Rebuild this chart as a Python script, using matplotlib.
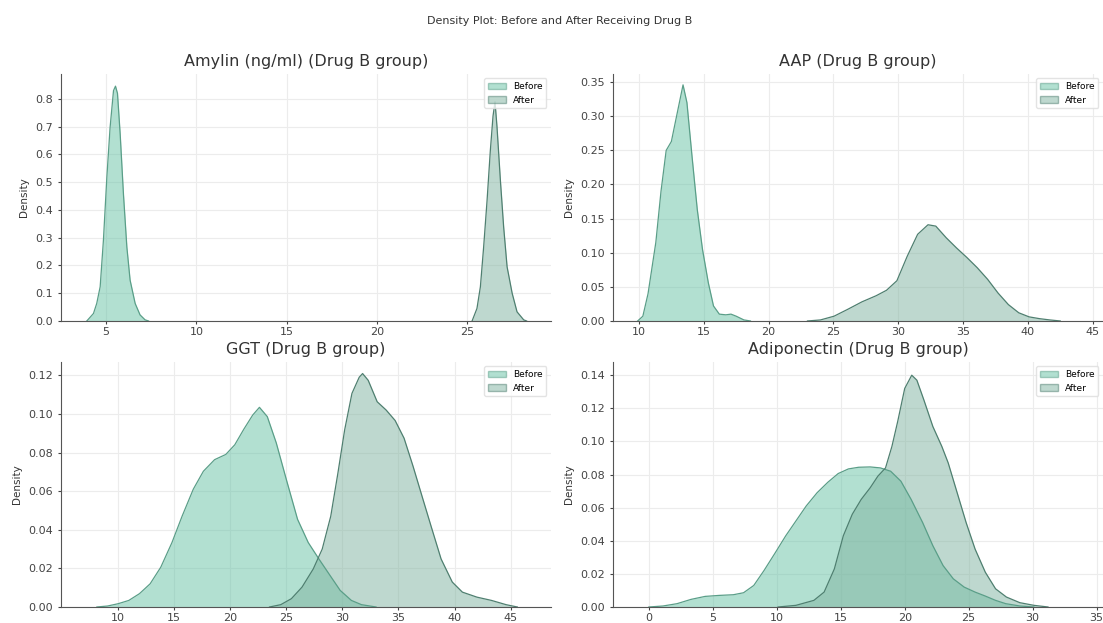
import matplotlib
matplotlib.use("Agg")
import matplotlib.pyplot as plt
from matplotlib.patches import Patch

# density curves (x, density)
amylin_before_x = [3.93, 4.30, 4.48, 4.67, 4.85, 5.04, 5.22, 5.41, 5.52, 5.63, 5.78, 5.96, 6.15, 6.33, 6.61, 6.88, 7.16, 7.35]
amylin_before_y = [0.0, 0.027, 0.063, 0.123, 0.29, 0.517, 0.697, 0.83, 0.846, 0.82, 0.673, 0.458, 0.266, 0.147, 0.063, 0.022, 0.004, 0.0]
amylin_after_x = [25.28, 25.55, 25.74, 25.92, 26.11, 26.29, 26.44, 26.55, 26.66, 26.85, 27.03, 27.22, 27.50, 27.77, 28.14, 28.30]
amylin_after_y = [0.0, 0.045, 0.123, 0.266, 0.434, 0.613, 0.738, 0.79, 0.70, 0.505, 0.338, 0.195, 0.10, 0.033, 0.004, 0.0]

aap_before_x = [9.9, 10.3, 10.7, 11.3, 11.7, 12.1, 12.5, 12.9, 13.4, 13.7, 14.1, 14.5, 14.9, 15.35, 15.75, 16.2, 16.7, 17.1, 17.5, 18.1, 18.6]
aap_before_y = [0.0, 0.007, 0.04, 0.115, 0.19, 0.25, 0.263, 0.30, 0.346, 0.32, 0.24, 0.163, 0.105, 0.056, 0.022, 0.01, 0.009, 0.01, 0.007, 0.0015, 0.0]
aap_after_x = [23.0, 24.0, 25.05, 26.1, 27.2, 28.3, 29.1, 29.9, 30.7, 31.5, 32.3, 32.9, 33.7, 34.5, 35.3, 36.1, 36.9, 37.7, 38.5, 39.3, 40.1, 40.9, 41.7, 42.5]
aap_after_y = [0.0, 0.0015, 0.007, 0.017, 0.028, 0.037, 0.045, 0.059, 0.095, 0.127, 0.141, 0.139, 0.122, 0.107, 0.093, 0.078, 0.061, 0.041, 0.024, 0.012, 0.006, 0.0034, 0.0015, 0.0]

ggt_before_x = [8.1, 9.05, 10.0, 10.95, 11.9, 12.85, 13.8, 14.8, 15.7, 16.7, 17.6, 18.6, 19.6, 20.4, 21.2, 22.0, 22.6, 23.3, 24.1, 25.0, 26.0, 26.95, 27.9, 28.9, 29.8, 30.8, 31.7, 33.0]
ggt_before_y = [0.0, 0.0005, 0.0017, 0.0034, 0.0069, 0.012, 0.0206, 0.0334, 0.047, 0.061, 0.0703, 0.0763, 0.079, 0.084, 0.092, 0.0994, 0.1034, 0.0986, 0.085, 0.066, 0.0454, 0.0334, 0.0249, 0.0163, 0.0086, 0.0034, 0.0012, 0.0]
ggt_after_x = [23.5, 24.5, 25.45, 26.4, 27.4, 28.2, 28.96, 29.6, 30.2, 30.85, 31.5, 31.8, 32.3, 33.1, 33.9, 34.7, 35.5, 36.3, 37.1, 37.9, 38.8, 39.8, 40.7, 42.0, 43.3, 44.6, 45.6]
ggt_after_y = [0.0, 0.0012, 0.0043, 0.0103, 0.0197, 0.030, 0.047, 0.0694, 0.0917, 0.1106, 0.119, 0.1209, 0.1174, 0.1063, 0.102, 0.0966, 0.0874, 0.0729, 0.0574, 0.042, 0.0249, 0.0129, 0.0077, 0.0051, 0.0034, 0.0012, 0.0]

adipo_before_x = [0.0, 1.1, 2.2, 3.3, 4.4, 5.5, 6.6, 7.4, 8.2, 9.0, 9.9, 10.7, 11.5, 12.3, 13.15, 14.0, 14.8, 15.6, 16.4, 17.3, 18.1, 18.9, 19.7, 20.5, 21.4, 22.2, 23.0, 23.8, 24.65, 25.5, 26.3, 27.1, 27.9, 29.0, 30.1]
adipo_before_y = [0.0, 0.0006, 0.002, 0.0046, 0.0064, 0.007, 0.0074, 0.0086, 0.013, 0.022, 0.033, 0.043, 0.052, 0.061, 0.069, 0.0754, 0.0806, 0.0834, 0.0844, 0.0846, 0.084, 0.082, 0.076, 0.065, 0.051, 0.037, 0.025, 0.017, 0.012, 0.009, 0.0066, 0.004, 0.002, 0.0006, 0.0]
adipo_after_x = [10.1, 11.5, 12.9, 13.7, 14.5, 15.2, 15.9, 16.6, 17.3, 17.9, 18.5, 19.0, 19.45, 20.0, 20.55, 20.95, 21.5, 22.2, 22.9, 23.4, 24.1, 24.8, 25.5, 26.3, 27.1, 27.95, 29.0, 30.1, 31.2]
adipo_after_y = [0.0, 0.001, 0.004, 0.009, 0.023, 0.043, 0.056, 0.065, 0.072, 0.079, 0.084, 0.097, 0.112, 0.132, 0.140, 0.137, 0.125, 0.109, 0.097, 0.087, 0.069, 0.051, 0.035, 0.021, 0.011, 0.006, 0.0026, 0.001, 0.0]

titles = ["Amylin (ng/ml) (Drug B group)", "AAP (Drug B group)",
          "GGT (Drug B group)", "Adiponectin (Drug B group)"]
curves = [
    (amylin_before_x, amylin_before_y, amylin_after_x, amylin_after_y),
    (aap_before_x, aap_before_y, aap_after_x, aap_after_y),
    (ggt_before_x, ggt_before_y, ggt_after_x, ggt_after_y),
    (adipo_before_x, adipo_before_y, adipo_after_x, adipo_after_y),
]
xlims = [(2.5, 29.65), (8.0, 45.8), (4.9, 48.6), (-2.8, 35.5)]
ylims = [(0, 0.89), (0, 0.362), (0, 0.1269), (0, 0.148)]
xticks = [[5, 10, 15, 20, 25], [10, 15, 20, 25, 30, 35, 40, 45],
          [10, 15, 20, 25, 30, 35, 40, 45], [0, 5, 10, 15, 20, 25, 30, 35]]

before_fill = "#66c2a5"
after_fill = "#7fb3a0"
before_edge = "#5a9e88"
after_edge = "#4f7f70"

fig = plt.figure(figsize=(11.03, 6.23), dpi=100)
# axes boxes (left, bottom, width, height) in figure fractions
boxes = [(0.0553, 0.4848, 0.4442, 0.3965), (0.5558, 0.4848, 0.4442, 0.3965),
         (0.0553, 0.0257, 0.4442, 0.3933), (0.5558, 0.0257, 0.4442, 0.3933)]

for i, box in enumerate(boxes):
    ax = fig.add_axes(box)
    bx, by, axx, ayy = curves[i]
    ax.fill_between(bx, by, color=before_fill, alpha=0.5, linewidth=0)
    ax.plot(bx, by, color=before_edge, lw=0.9)
    ax.fill_between(axx, ayy, color=after_fill, alpha=0.5, linewidth=0)
    ax.plot(axx, ayy, color=after_edge, lw=0.9)
    ax.set_xlim(*xlims[i])
    ax.set_ylim(*ylims[i])
    ax.set_xticks(xticks[i])
    ax.grid(True, color="#ececec", lw=0.8)
    ax.set_axisbelow(True)
    for s in ["top", "right"]:
        ax.spines[s].set_visible(False)
    for s in ["left", "bottom"]:
        ax.spines[s].set_color("#555555")
    ax.tick_params(labelsize=8, colors="#444444", length=2.5)
    ax.tick_params(axis="x", pad=1.5)
    ax.set_ylabel("Density", fontsize=7.5, color="#333333")
    ax.set_title(titles[i], fontsize=11.5, color="#333333", pad=6)
    handles = [Patch(facecolor=before_fill, alpha=0.5, edgecolor=before_edge, label="Before"),
               Patch(facecolor=after_fill, alpha=0.5, edgecolor=after_edge, label="After")]
    leg = ax.legend(handles=handles, loc="upper right", fontsize=6.5, frameon=True)
    leg.get_frame().set_edgecolor("#dddddd")

fig.suptitle("Density Plot: Before and After Receiving Drug B", x=0.507, y=0.975,
             fontsize=8, color="#333333")

fig.savefig("out.png", dpi=100)
